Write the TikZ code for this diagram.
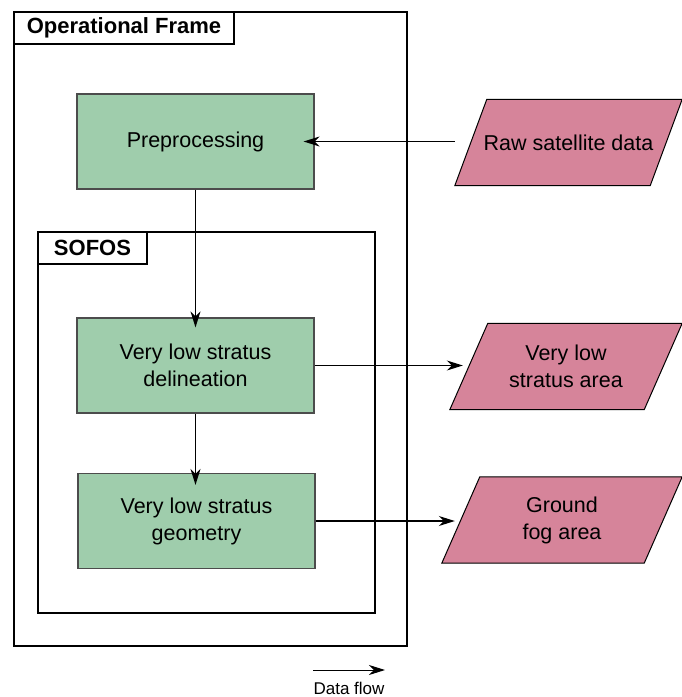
\documentclass[tikz,border=0pt]{standalone}
\usepackage{fontspec}
\setmainfont{Liberation Sans}
\usepackage{xcolor}
\usetikzlibrary{arrows.meta, positioning}

\definecolor{stepgreen}{RGB}{159,205,172}
\definecolor{datapink}{RGB}{214,132,154}
\pgfdeclarelayer{background}
\pgfsetlayers{background,main}

\begin{document}
\begin{tikzpicture}[x=1pt,y=-1pt,
% Frame and title style
    frame/.style={rectangle,draw=black,line width=1.4pt,fill=none,
		minimum width=#1,inner sep=0pt},
    title/.style={rectangle,draw=black,line width=1.4pt,fill=white,
		inner sep=0pt,minimum height=32pt,
		font=\fontsize{22}{25}\selectfont\bfseries},
% Process style
    process/.style={rectangle,draw=black!70,line width=1.2pt,fill=stepgreen,
		minimum width=237pt,minimum height=95pt,align=center,
		font=\fontsize{21.5}{27}\selectfont},
% Data style (text body; slanted outline drawn behind it)
    data/.style={rectangle,minimum width=#1,minimum height=86pt,
		inner sep=0pt,align=center,font=\fontsize{21.5}{27}\selectfont},
    dataframe/.style={draw=black,line width=1pt,fill=datapink},
% Flow style
    flow/.style={line width=1.2pt,-{Stealth[length=16pt,width=10pt,inset=5pt]}}
    ]
   \useasboundingbox (0,0) rectangle (682,697);
%% Frames
   \node (opframe) [frame=393pt,minimum height=634pt] at (210.5,329) {};
   \node (optitle) [title,minimum width=220pt] at (124,28) {Operational Frame};
   \node (sofos)   [frame=337pt,minimum height=381pt] at (206.5,422.5) {};
   \node (sotitle) [title,minimum width=109pt] at (92.5,248) {SOFOS};
%% Processing steps
   \node (pre)   [process] at (195.5,141.5) {Preprocessing};
   \node (delin) [process] at (195.5,365.5) {Very low stratus\\delineation};
   \node (geom)  [process] at (196.5,521)   {Very low stratus\\geometry};
%% Data
   \node (raw)     [data=195pt] at (568.5,142.5) {Raw satellite data};
   \node (stratus) [data=194pt] at (566,366.5)   {Very low\\stratus area};
   \node (fog)     [data=202pt] at (562,520)     {Ground\\fog area};
   \begin{pgfonlayer}{background}
   \foreach \n/\s in {raw/16pt, stratus/19pt, fog/19pt}
      \draw [dataframe] ([xshift=-\s]\n.south west) -- ([xshift=\s]\n.north west)
         -- ([xshift=\s]\n.north east) -- ([xshift=-\s]\n.south east) -- cycle;
   \end{pgfonlayer}
%% Data flow
   \draw [flow,shorten >=-11pt] ([xshift=-16pt]raw.west |- pre.east) -- (pre.east);
   \draw [flow,shorten >=-10pt] (pre.south) -- (delin.north);
   \draw [flow,shorten >=-12pt] (delin.south) -- (geom.north -| delin.south);
   \draw [flow,shorten >=6pt] (delin.east) -- (stratus.west |- delin.east);
   \draw [flow,shorten >=6pt] (geom.east) -- (fog.west |- geom.east);
%% Legend
   \coordinate (legstart) at (313,670);
   \coordinate (legend)   at (385,670);
   \draw [flow,line width=1pt] (legstart) -- (legend);
   \node (legtext) [font=\fontsize{17}{20}\selectfont] at (349,688) {Data flow};
\end{tikzpicture}
\end{document}
